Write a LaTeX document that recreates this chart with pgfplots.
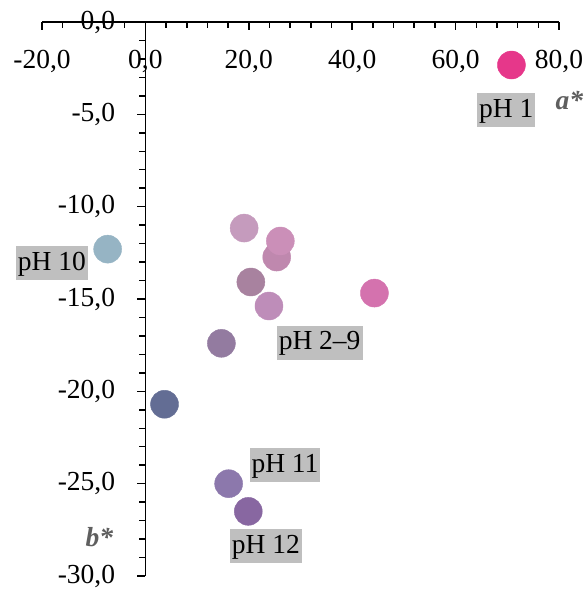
\documentclass[border=0pt]{standalone}
\usepackage{pgfplots}
\pgfplotsset{compat=1.18}
\usepackage{fontspec}
\setmainfont{Liberation Serif}
\definecolor{c1}{HTML}{E6378A}
\definecolor{c2}{HTML}{C59BBD}
\definecolor{c3}{HTML}{CB8FB8}
\definecolor{c4}{HTML}{BF88AE}
\definecolor{c5}{HTML}{A8829F}
\definecolor{c6}{HTML}{BE8DB9}
\definecolor{c7}{HTML}{937BA0}
\definecolor{c8}{HTML}{D472AE}
\definecolor{c10}{HTML}{96B4C4}
\definecolor{c9}{HTML}{636D94}
\definecolor{c11}{HTML}{8C78AC}
\definecolor{c12}{HTML}{8867A1}
\definecolor{axlab}{HTML}{5F5F5F}
\definecolor{boxgray}{HTML}{BFBFBF}
\tikzset{lbl/.style={fill=boxgray, inner xsep=2pt, inner ysep=4pt, text height=20pt, text depth=6pt,
    font=\fontsize{27.5}{33}\selectfont}}
\begin{document}
\fontsize{27.5}{33}\selectfont
\begin{tikzpicture}
\begin{axis}[
  at={(0,0)}, anchor=south west, scale only axis,
  width=517pt, height=554pt,
  xmin=-20, xmax=80, ymin=-30, ymax=0,
  axis lines=middle,
  axis line style={line width=1.5pt, -},
  clip=false,
  xtick={-20,0,20,40,60,80},
  ytick={-30,-25,-20,-15,-10,-5,0},
  minor x tick num=4, minor y tick num=4,
  tick align=outside,
  major tick length=8pt, minor tick length=6pt,
  tick style={line width=1.5pt, black},
  /pgf/number format/assume math mode=true,
  ticklabel style={font=\fontsize{27.5}{33}\selectfont,
    /pgf/number format/fixed, /pgf/number format/fixed zerofill,
    /pgf/number format/precision=1, /pgf/number format/use comma},
  xticklabel style={yshift=-11pt},
  yticklabel style={xshift=-13pt},
  hide obscured x ticks=false, hide obscured y ticks=false,
  every axis plot/.append style={only marks, mark=*, mark size=14pt,
    mark options={draw=white, line width=0.5pt}},
]
\addplot[c1, mark options={fill=c1}] coordinates {(70.8,-2.33)};
\addplot[c2, mark options={fill=c2}] coordinates {(19.1,-11.16)};
\addplot[c4, mark options={fill=c4}] coordinates {(25.4,-12.73)};
\addplot[c3, mark options={fill=c3}] coordinates {(26.1,-11.86)};
\addplot[c5, mark options={fill=c5}] coordinates {(20.4,-14.08)};
\addplot[c6, mark options={fill=c6}] coordinates {(23.9,-15.38)};
\addplot[c7, mark options={fill=c7}] coordinates {(14.7,-17.40)};
\addplot[c8, mark options={fill=c8}] coordinates {(44.3,-14.68)};
\addplot[c10, mark options={fill=c10}] coordinates {(-7.3,-12.30)};
\addplot[c9, mark options={fill=c9}] coordinates {(3.7,-20.70)};
\addplot[c11, mark options={fill=c11}] coordinates {(16.1,-25.00)};
\addplot[c12, mark options={fill=c12}] coordinates {(19.9,-26.50)};
\node[lbl] at (axis cs:69.8,-4.79) {pH 1};
\node[lbl] at (axis cs:-18.1,-13.06) {pH 10};
\node[lbl] at (axis cs:33.7,-17.36) {pH 2–9};
\node[lbl] at (axis cs:27.0,-24.0) {pH 11};
\node[lbl] at (axis cs:23.3,-28.39) {pH 12};
\node[text=axlab, font=\fontsize{27.5}{33}\selectfont\bfseries\itshape] at (axis cs:82.0,-4.23) {a*};
\node[text=axlab, font=\fontsize{27.5}{33}\selectfont\bfseries\itshape] at (axis cs:-8.9,-27.9) {b*};
\end{axis}
\pgfresetboundingbox
\path[use as bounding box] (-42pt,-17pt) rectangle (543pt,576pt);
\end{tikzpicture}
\end{document}
